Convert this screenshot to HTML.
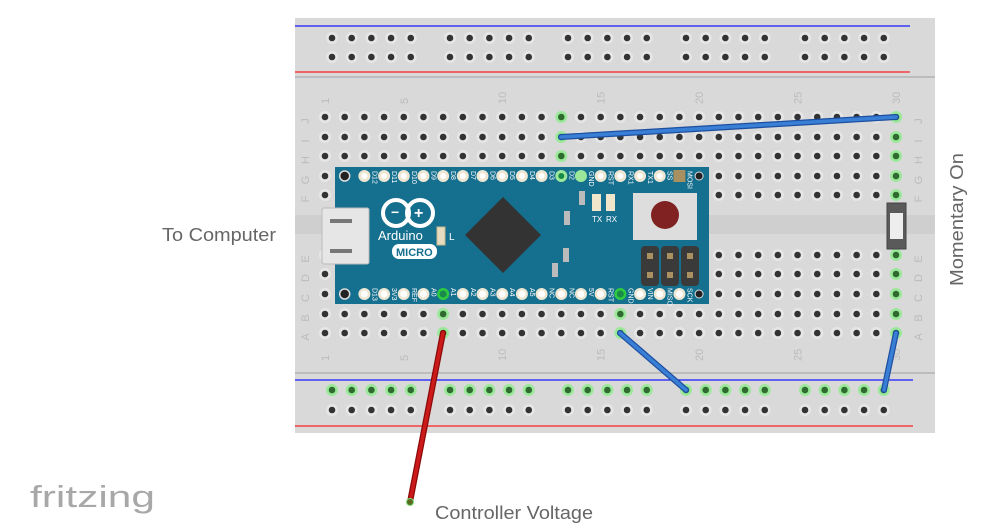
<!DOCTYPE html>
<html><head><meta charset="utf-8"><style>
html,body{margin:0;padding:0;background:#fff;width:998px;height:530px;overflow:hidden}
svg{display:block}
text{font-family:"Liberation Sans",sans-serif}
</style></head><body>
<svg id="s" width="998" height="530" viewBox="0 0 998 530" xmlns="http://www.w3.org/2000/svg">
<rect x="295" y="18" width="640" height="415" fill="#d9d9d9"/>
<line x1="295" y1="26" x2="910" y2="26" stroke="#1a1aff" stroke-width="1.2"/>
<line x1="295" y1="72" x2="910" y2="72" stroke="#ff2020" stroke-width="1.2"/>
<line x1="295" y1="77" x2="935" y2="77" stroke="#bdbdbd" stroke-width="2"/>
<line x1="295" y1="373" x2="935" y2="373" stroke="#bdbdbd" stroke-width="2"/>
<line x1="295" y1="380" x2="913" y2="380" stroke="#1a1aff" stroke-width="1.2"/>
<line x1="295" y1="426" x2="913" y2="426" stroke="#ff2020" stroke-width="1.2"/>
<rect x="295" y="215" width="640" height="19" fill="#cfcfcf"/>
<g id="holes"></g>
<g id="labels" fill="#bbb" font-size="11"></g>
<!-- Arduino -->
<rect x="335" y="167" width="374" height="137" fill="#156f8e"/>
<g id="pins"></g>
<!-- USB -->
<rect x="322" y="208" width="47" height="56" rx="2" fill="#e6e6e6" stroke="#bbb"/>
<rect x="330" y="219" width="22" height="4" fill="#777"/>
<rect x="330" y="249" width="22" height="4" fill="#777"/>
<!-- logo -->
<g fill="none" stroke="#fff" stroke-width="4">
<circle cx="396" cy="213" r="13"/><circle cx="420" cy="213" r="13"/></g>
<text x="391" y="217" fill="#fff" font-size="14" font-weight="bold">−</text>
<text x="414" y="218" fill="#fff" font-size="16" font-weight="bold">+</text>
<text x="378" y="240" fill="#fff" font-size="13" font-family="Liberation Mono">Arduino</text>
<rect x="392" y="244" width="45" height="15" rx="7" fill="#fff"/>
<text x="396" y="256" fill="#156f8e" font-size="11" font-family="Liberation Mono" font-weight="bold">MICRO</text>
<rect x="437" y="227" width="8" height="18" fill="#e8dcc0" stroke="#c8b890"/>
<text x="449" y="240" fill="#fff" font-size="10">L</text>
<polygon points="503,197 541,235 503,273 465,235" fill="#333"/>
<rect x="564" y="211" width="6" height="14" fill="#bbb"/>
<rect x="563" y="248" width="6" height="14" fill="#bbb"/>
<rect x="552" y="263" width="6" height="14" fill="#bbb"/>
<rect x="579" y="191" width="6" height="14" fill="#bbb"/>
<rect x="592" y="194" width="9" height="17" fill="#efe6cc"/>
<rect x="606" y="194" width="9" height="17" fill="#efe6cc"/>
<text x="592" y="222" fill="#fff" font-size="8">TX</text>
<text x="606" y="222" fill="#fff" font-size="8">RX</text>
<rect x="633" y="193" width="64" height="47" fill="#ddd"/>
<circle cx="665" cy="215" r="14" fill="#812222"/>
<rect x="641" y="246" width="18" height="40" rx="4" fill="#3a3a3a"/>
<rect x="661" y="246" width="18" height="40" rx="4" fill="#3a3a3a"/>
<rect x="681" y="246" width="18" height="40" rx="4" fill="#3a3a3a"/>
<g fill="#a89060"><rect x="647" y="253" width="6" height="6"/><rect x="667" y="253" width="6" height="6"/><rect x="687" y="253" width="6" height="6"/><rect x="647" y="272" width="6" height="6"/><rect x="667" y="272" width="6" height="6"/><rect x="687" y="272" width="6" height="6"/></g>
<!-- button -->
<rect x="887" y="203" width="19" height="46" fill="#5a5a5a" stroke="#444"/>
<rect x="890" y="213" width="13" height="26" fill="#eee"/>
<!-- wires -->
<g stroke-linecap="round">
<line x1="561" y1="137" x2="896" y2="117" stroke="#1d4fa0" stroke-width="6"/>
<line x1="561" y1="137" x2="896" y2="117" stroke="#3a7fd6" stroke-width="3.5"/>
<line x1="620" y1="333" x2="686" y2="390" stroke="#1d4fa0" stroke-width="6"/>
<line x1="620" y1="333" x2="686" y2="390" stroke="#3a7fd6" stroke-width="3.5"/>
<line x1="896" y1="333" x2="884" y2="390" stroke="#1d4fa0" stroke-width="6"/>
<line x1="896" y1="333" x2="884" y2="390" stroke="#3a7fd6" stroke-width="3.5"/>
<line x1="443" y1="333" x2="410" y2="502" stroke="#8a0a0a" stroke-width="6"/>
<line x1="443" y1="333" x2="410" y2="502" stroke="#cc1a1a" stroke-width="3.5"/>
</g>
<circle cx="410" cy="502" r="3.5" fill="#5a6a20" stroke="#7d7" stroke-width="1"/>
<text x="162" y="241" fill="#666" font-size="18" textLength="114" lengthAdjust="spacingAndGlyphs">To Computer</text>
<text x="435" y="519" fill="#666" font-size="18" textLength="158" lengthAdjust="spacingAndGlyphs">Controller Voltage</text>
<text transform="translate(963,286) rotate(-90)" fill="#666" font-size="18" textLength="133" lengthAdjust="spacingAndGlyphs">Momentary On</text>
<text x="30" y="507" fill="#a8a8a8" font-size="31" font-family="DejaVu Sans" textLength="125" lengthAdjust="spacingAndGlyphs">fritzing</text>
</svg>
<script>
var NS="http://www.w3.org/2000/svg";
function el(p,t,a,txt){var e=document.createElementNS(NS,t);for(var k in a)e.setAttribute(k,a[k]);if(txt)e.textContent=txt;document.getElementById(p).appendChild(e);return e;}
function hole(x,y,g){el("holes","circle",{cx:x,cy:y,r:6,fill:g?"#9be89b":"#e6e6e6"});el("holes","circle",{cx:x,cy:y,r:3.3,fill:g?"#2f6a2f":"#333"});}
var P=19.69,cx=function(c){return 325+(c-1)*P};
var rows={J:117,I:137,H:156,G:176,F:195,E:255,D:274,C:294,B:314,A:333};
var green={13:"JIH",30:"JIHGFEDCBA",7:"BA",16:"BA"};
for(var c=1;c<=30;c++)for(var r in rows){
 var y=rows[r],x=cx(c);
 if(x>335&&x<709&&y>167&&y<304)continue;
 hole(x,y,green[c]&&green[c].indexOf(r)>=0);
}
var gs=[332,450,568,686,805];
gs.forEach(function(s){for(var i=0;i<5;i++){var x=s+i*P;hole(x,38,false);hole(x,57,false);hole(x,390,true);hole(x,410,false);}});
[1,5,10,15,20,25,30].forEach(function(n){
 el("labels","text",{transform:"translate("+(cx(n)+4)+",104) rotate(-90)"},String(n));
 el("labels","text",{transform:"translate("+(cx(n)+4)+",361) rotate(-90)"},String(n));
});
for(var r in rows){
 el("labels","text",{transform:"translate(309,"+(rows[r]+4)+") rotate(-90)","text-anchor":"middle"},r);
 el("labels","text",{transform:"translate(922,"+(rows[r]+4)+") rotate(-90)","text-anchor":"middle"},r);
}
var topPins=["D12","D11","D10","D9","D8","D7","D6","D5","D4","D3","D2","GND","RST","RX1","TX1","SS"];
var botPins=["D13","3V3","REF","A0","A1","A2","A3","A4","A5","NC","NC","5V","RST","GND","VIN","MISO","SCK"];
el("pins","circle",{cx:cx(2),cy:176,r:5,fill:"#222",stroke:"#ddd","stroke-width":1.5});
el("pins","circle",{cx:cx(2),cy:294,r:5,fill:"#222",stroke:"#ddd","stroke-width":1.5});
topPins.forEach(function(n,i){var x=cx(3+i),g=(n=="D2"||n=="GND");
 el("pins","circle",{cx:x,cy:176,r:6,fill:g?"#9be89b":"#ece6d2"});el("pins","circle",{cx:x,cy:176,r:3,fill:n=="D2"?"#1a8a4a":(g?"#9be89b":"#fff")});
 el("pins","text",{transform:"translate("+(x+8)+",171) rotate(90)",fill:"#fff","font-size":"7"},n);});
el("pins","rect",{x:cx(19)-6,y:170,width:12,height:12,fill:"#a89060"});
el("pins","text",{transform:"translate("+(cx(19)+8)+",171) rotate(90)",fill:"#fff","font-size":"7"},"MOSI");
el("pins","circle",{cx:cx(20),cy:176,r:4,fill:"#222",stroke:"#ddd"});
botPins.forEach(function(n,i){var x=cx(3+i),g=(n=="A1"||(n=="GND"));
 el("pins","circle",{cx:x,cy:294,r:6,fill:g?"#2ecc40":"#ece6d2"});el("pins","circle",{cx:x,cy:294,r:3.5,fill:g?"#1a8a4a":"#fff"});
 el("pins","text",{transform:"translate("+(x+8)+",288) rotate(90)",fill:"#fff","font-size":"7"},n);});
el("pins","circle",{cx:cx(20),cy:294,r:4,fill:"#222",stroke:"#ddd"});
</script>
</body></html>
